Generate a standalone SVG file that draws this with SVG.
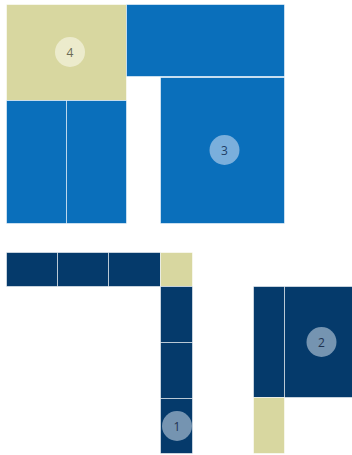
<svg xmlns="http://www.w3.org/2000/svg" width="352" height="455" viewBox="0 0 352 455">
<style>
rect{stroke:#ffffff;stroke-opacity:0.55;stroke-width:1}
.t{fill:#d8d7a0}.b{fill:#0a6fbb}.d{fill:#053a6b}
text{font-family:"Open Sans","Noto Sans",sans-serif;font-size:12px;text-anchor:middle;dominant-baseline:central}
</style>
<rect width="352" height="455" fill="#ffffff" stroke="none"/>
<g id="cluster-4">
<rect class="t" x="6.5" y="4.5" width="120" height="96"/>
<rect class="b" x="6.5" y="100.5" width="60" height="123"/>
<rect class="b" x="66.5" y="100.5" width="60" height="123"/>
<circle cx="70" cy="52" r="15" fill="#ecebcc"/>
<text x="70" y="52" fill="#6b6b55">4</text>
</g>
<g id="cluster-3">
<rect class="b" x="126.5" y="4.5" width="158" height="72"/>
<rect class="b" x="160.5" y="77.5" width="124" height="146"/>
<circle cx="224.5" cy="150" r="15" fill="#7aafdc"/>
<text x="224.5" y="150" fill="#1f3f66">3</text>
</g>
<g id="cluster-1">
<rect class="d" x="6.5" y="252.5" width="51" height="34"/>
<rect class="d" x="57.5" y="252.5" width="51" height="34"/>
<rect class="d" x="108.5" y="252.5" width="52" height="34"/>
<rect class="t" x="160.5" y="252.5" width="32" height="34"/>
<rect class="d" x="160.5" y="286.5" width="32" height="56"/>
<rect class="d" x="160.5" y="342.5" width="32" height="56"/>
<rect class="d" x="160.5" y="398.5" width="32" height="55"/>
<circle cx="177" cy="426" r="15" fill="#7594b1"/>
<text x="177" y="426" fill="#1f3350">1</text>
</g>
<g id="cluster-2">
<rect class="d" x="253.5" y="286.5" width="31" height="111"/>
<rect class="d" x="284.5" y="286.5" width="68" height="111"/>
<rect class="t" x="253.5" y="397.5" width="31" height="56"/>
<circle cx="321.5" cy="342" r="15" fill="#7594b1"/>
<text x="321.5" y="342" fill="#1f3350">2</text>
</g>
<g id="connectors"/>
</svg>
